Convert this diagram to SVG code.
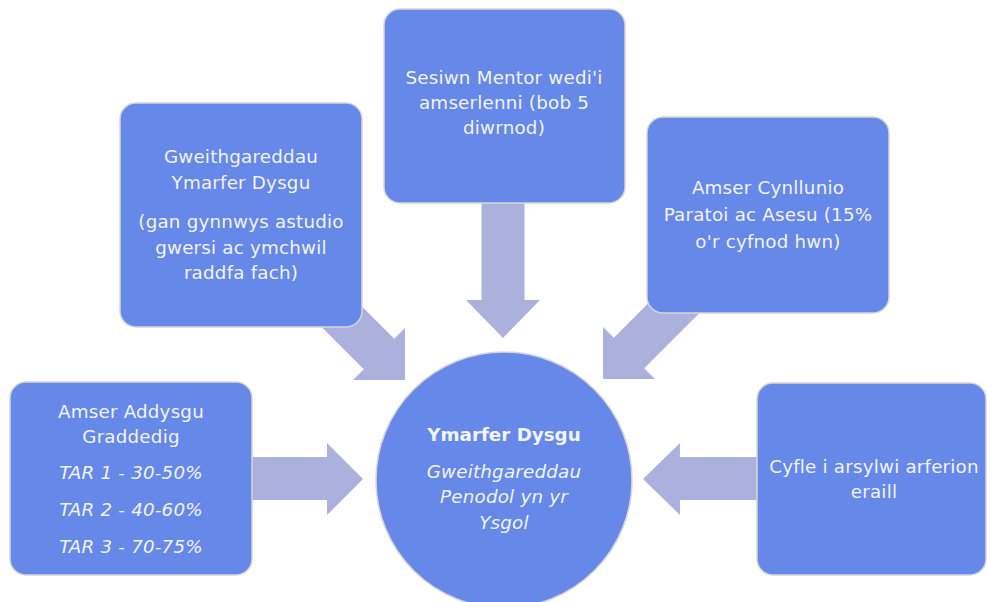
<svg xmlns="http://www.w3.org/2000/svg" width="987" height="602" viewBox="0 0 987 602">
<style>
.box{fill:#6688e8;stroke:#d6d6d6;stroke-width:1.5}
.arr{fill:#abb0dc}
text{font-family:"DejaVu Sans","Noto Sans",sans-serif;font-size:18.3px;letter-spacing:0.2px;fill:#f2f4fb;text-anchor:middle}
.it{font-style:italic}
.b{font-weight:bold;letter-spacing:0}
</style>
<rect width="987" height="602" fill="#ffffff"/>
<g id="connectors">
<polygon class="arr" points="245,457 327,457 327,443 363,479 327,515 327,500 245,500"/>
<polygon class="arr" points="765,457 680,457 680,443 643,479 680,515 680,500 765,500"/>
<polygon class="arr" points="481.5,195 524.5,195 524.5,300 540,300 503,338 466,300 481.5,300"/>
<polygon class="arr" points="337.6,282.2 394.2,338.8 405,328 405,380 353,380 363.8,369.2 307.2,312.6"/>
<polygon class="arr" points="683.8,267.8 613.8,337.8 603,327 603,379 655,379 644.2,368.2 714.2,298.2"/>
</g>
<g id="node-left">
<rect class="box" x="10" y="382" width="242" height="193" rx="16"/>
<text x="131" y="418">Amser Addysgu</text>
<text x="131" y="443">Graddedig</text>
<text class="it" x="131" y="479">TAR 1 - 30-50%</text>
<text class="it" x="131" y="516">TAR 2 - 40-60%</text>
<text class="it" x="131" y="553">TAR 3 - 70-75%</text>
</g>
<g id="node-topleft">
<rect class="box" x="120" y="103" width="242" height="224" rx="16"/>
<text x="241" y="163">Gweithgareddau</text>
<text x="241" y="189">Ymarfer Dysgu</text>
<text x="241" y="228">(gan gynnwys astudio</text>
<text x="241" y="254">gwersi ac ymchwil</text>
<text x="241" y="279">raddfa fach)</text>
</g>
<g id="node-top">
<rect class="box" x="384" y="9" width="241" height="194" rx="16"/>
<text x="504" y="84">Sesiwn Mentor wedi'i</text>
<text x="504" y="109">amserlenni (bob 5</text>
<text x="504" y="134">diwrnod)</text>
</g>
<g id="node-topright">
<rect class="box" x="647" y="117" width="242" height="196" rx="16"/>
<text x="768" y="194">Amser Cynllunio</text>
<text x="768" y="221">Paratoi ac Asesu (15%</text>
<text x="768" y="248">o'r cyfnod hwn)</text>
</g>
<g id="node-right">
<rect class="box" x="757" y="383" width="229" height="192" rx="16"/>
<text x="874" y="473">Cyfle i arsylwi arferion</text>
<text x="874" y="498">eraill</text>
</g>
<g id="node-center">
<circle class="box" cx="504" cy="480" r="128"/>
<text class="b" x="504" y="441">Ymarfer Dysgu</text>
<text class="it" x="504" y="478">Gweithgareddau</text>
<text class="it" x="504" y="503">Penodol yn yr</text>
<text class="it" x="504" y="529">Ysgol</text>
</g>
</svg>
